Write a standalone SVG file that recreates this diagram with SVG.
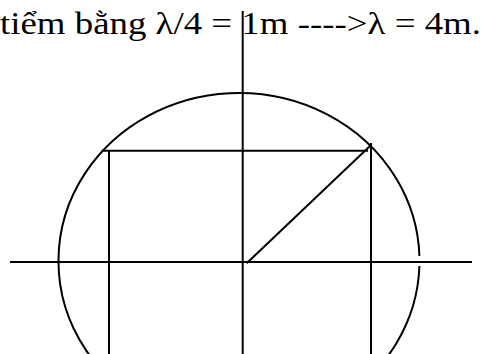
<svg xmlns="http://www.w3.org/2000/svg" width="482" height="354" viewBox="0 0 482 354">
<style>
.l{stroke:#000;stroke-width:2;fill:none}
.t{font-family:"Liberation Serif","Times New Roman",serif;font-size:31px;fill:#000}
</style>
<rect width="482" height="354" fill="#fff"/>
<text class="t" x="0" y="34" textLength="481" lengthAdjust="spacingAndGlyphs">tiểm bằng λ/4 = 1m ----&gt;λ = 4m.</text>
<g id="connectors">
<path class="l" d="M419.4,266 A180.5,168 0 1 1 419.4,256"/>
<line class="l" x1="242.7" y1="11" x2="242.7" y2="354"/>
<line class="l" x1="10" y1="262" x2="472" y2="262"/>
<line class="l" x1="101.7" y1="150.7" x2="368" y2="150.7"/>
<line class="l" x1="109" y1="150" x2="109" y2="354"/>
<line class="l" x1="371" y1="143" x2="371" y2="354"/>
<line class="l" x1="246.7" y1="263.3" x2="370" y2="146"/>
</g>
</svg>
